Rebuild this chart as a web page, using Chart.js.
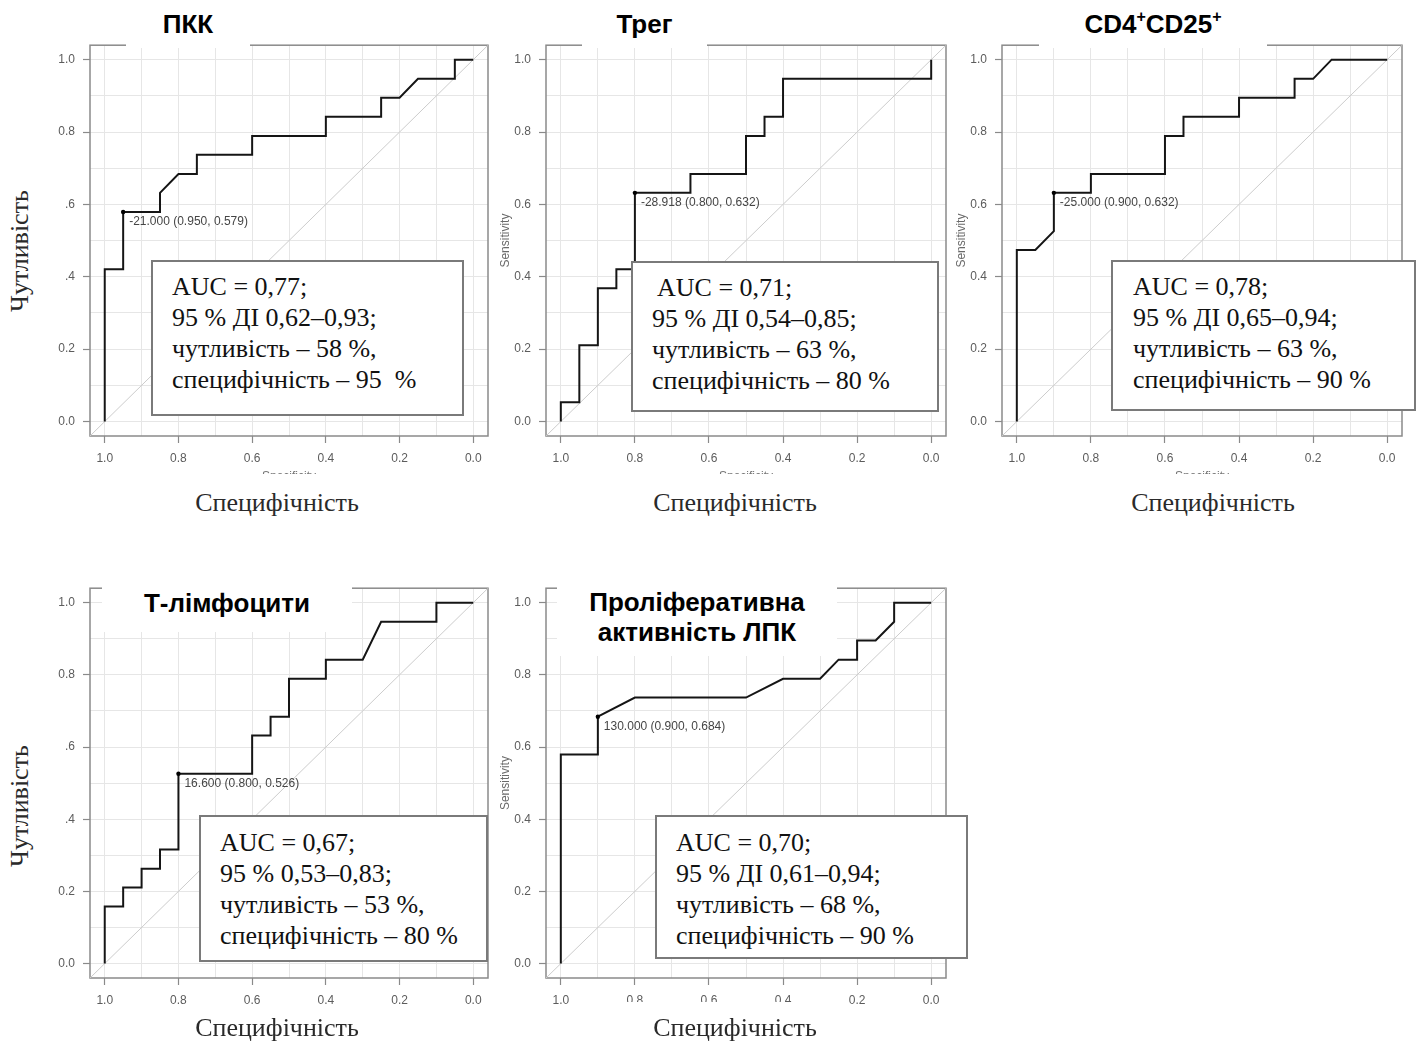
<!DOCTYPE html>
<html lang="uk">
<head>
<meta charset="utf-8">
<title>ROC-криві</title>
<script src="https://cdn.jsdelivr.net/npm/chart.js@4.4.1/dist/chart.umd.min.js"></script>
<style>
  html, body { margin: 0; padding: 0; background: #fff; }
  #wrap { position: relative; width: 1421px; height: 1044px; overflow: hidden; background: #fff; }
  #wrap canvas { position: absolute; z-index: 1; }
  .cover { position: absolute; background: #fff; z-index: 2; }
  .ttl { position: absolute; z-index: 3; background: #fff; text-align: center;
         font: bold 26px "Liberation Sans", Arial, sans-serif; color: #000; }
  .ttl sup { font-size: 16px; line-height: 0; vertical-align: 0; position: relative; top: -11px; }
  .box { position: absolute; z-index: 3; background: #fff; box-sizing: border-box;
         border: 2px solid #7a7a7a; white-space: pre; padding-left: 19px;
         font: 26px/31px "Liberation Serif", "Times New Roman", serif; color: #111; }
  .ax { position: absolute; z-index: 3; white-space: nowrap;
        font: 26px "Liberation Serif", "Times New Roman", serif; color: #2a2a2a;
        transform: translate(-50%, -50%); line-height: 30px; }
  .ax.rot { transform: translate(-50%, -50%) rotate(-90deg); }
</style>
</head>
<body>
<div id="wrap"></div>
<script>
// ---- axis ticks (specificity / sensitivity, 0..1) ----
const tickValues = [0, 0.1, 0.2, 0.3, 0.4, 0.5, 0.6, 0.7, 0.8, 0.9, 1.0];
const tickLabels = ['0.0', '', '0.2', '', '0.4', '', '0.6', '', '0.8', '', '1.0'];
const axisMin = -0.04;
const axisMax = 1.04;

// ---- ПКК ----
const pkkSpec = [1.00, 1.00, 0.95, 0.95, 0.85, 0.85, 0.80, 0.75, 0.75, 0.60, 0.60, 0.40, 0.40, 0.25, 0.25, 0.20, 0.15, 0.05, 0.05, 0.00];
const pkkSens = [0.000, 0.421, 0.421, 0.579, 0.579, 0.632, 0.684, 0.684, 0.737, 0.737, 0.789, 0.789, 0.842, 0.842, 0.895, 0.895, 0.947, 0.947, 1.000, 1.000];
const pkkBest = 3;

// ---- Трег ----
const tregSpec = [1.00, 1.00, 0.95, 0.95, 0.90, 0.90, 0.85, 0.85, 0.80, 0.80, 0.65, 0.65, 0.50, 0.50, 0.45, 0.45, 0.40, 0.40, 0.00, 0.00];
const tregSens = [0.000, 0.053, 0.053, 0.211, 0.211, 0.368, 0.368, 0.421, 0.421, 0.632, 0.632, 0.684, 0.684, 0.789, 0.789, 0.842, 0.842, 0.947, 0.947, 1.000];
const tregBest = 9;

// ---- CD4+CD25+ ----
const cdSpec = [1.00, 1.00, 0.95, 0.90, 0.90, 0.80, 0.80, 0.60, 0.60, 0.55, 0.55, 0.40, 0.40, 0.25, 0.25, 0.20, 0.15, 0.00];
const cdSens = [0.000, 0.474, 0.474, 0.526, 0.632, 0.632, 0.684, 0.684, 0.789, 0.789, 0.842, 0.842, 0.895, 0.895, 0.947, 0.947, 1.000, 1.000];
const cdBest = 4;

// ---- Т-лімфоцити ----
const tlSpec = [1.00, 1.00, 0.95, 0.95, 0.90, 0.90, 0.85, 0.85, 0.80, 0.80, 0.60, 0.60, 0.55, 0.55, 0.50, 0.50, 0.40, 0.40, 0.30, 0.25, 0.10, 0.10, 0.00];
const tlSens = [0.000, 0.158, 0.158, 0.211, 0.211, 0.263, 0.263, 0.316, 0.316, 0.526, 0.526, 0.632, 0.632, 0.684, 0.684, 0.789, 0.789, 0.842, 0.842, 0.947, 0.947, 1.000, 1.000];
const tlBest = 9;

// ---- Проліферативна активність ЛПК ----
const prolSpec = [1.00, 1.00, 0.90, 0.90, 0.80, 0.50, 0.40, 0.30, 0.25, 0.20, 0.20, 0.15, 0.10, 0.10, 0.00];
const prolSens = [0.000, 0.579, 0.579, 0.684, 0.737, 0.737, 0.789, 0.789, 0.842, 0.842, 0.895, 0.895, 0.947, 1.000, 1.000];
const prolBest = 3;

// optimal cut-off values
const cutoffs = ['-21.000', '-28.918', '-25.000', '16.600', '130.000'];

// ---- layout ----
const YW = 50, XB = 50, PT = 5, PR = 5;
const FRAME = '#8a8a8a', GRID = '#e6e6e6', TICK = '#5c5c5c';
const SANS = '"Liberation Sans", Arial, sans-serif';

const panels = [
  { frame: [90, 35, 398, 401],  spec: pkkSpec,  sens: pkkSens,  best: pkkBest,  cut: cutoffs[0], xTitle: true },
  { frame: [546, 35, 400, 401], spec: tregSpec, sens: tregSens, best: tregBest, cut: cutoffs[1], xTitle: true },
  { frame: [1002, 35, 400, 401], spec: cdSpec,  sens: cdSens,   best: cdBest,   cut: cutoffs[2], xTitle: true },
  { frame: [90, 578, 398, 400], spec: tlSpec,   sens: tlSens,   best: tlBest,   cut: cutoffs[3], xTitle: false },
  { frame: [546, 578, 400, 400], spec: prolSpec, sens: prolSens, best: prolBest, cut: cutoffs[4], xTitle: false }
];

const framePlugin = {
  id: 'frameBox',
  beforeDatasetsDraw(chart) {
    const a = chart.chartArea, ctx = chart.ctx;
    ctx.save();
    ctx.strokeStyle = FRAME;
    ctx.lineWidth = 1.5;
    ctx.strokeRect(a.left, a.top, a.right - a.left, a.bottom - a.top);
    ctx.restore();
  }
};

const cutLabelPlugin = {
  id: 'cutLabel',
  afterDatasetsDraw(chart, args, opts) {
    const meta = chart.getDatasetMeta(0);
    const el = meta.data[opts.index];
    const pt = chart.data.datasets[0].data[opts.index];
    const ctx = chart.ctx;
    ctx.save();
    ctx.font = '12px ' + SANS;
    ctx.fillStyle = '#454545';
    ctx.textAlign = 'left';
    ctx.textBaseline = 'middle';
    ctx.fillText(opts.cut + ' (' + pt.x.toFixed(3) + ', ' + pt.y.toFixed(3) + ')', el.x + 6, el.y + 9.5);
    ctx.restore();
  }
};

function axisOptions(isX, p) {
  const o = {
    type: 'linear',
    min: axisMin,
    max: axisMax,
    afterBuildTicks: s => { s.ticks = tickValues.map(v => ({ value: v })); },
    grid: {
      color: GRID,
      lineWidth: 1,
      tickLength: 7,
      tickWidth: 1.2,
      tickColor: c => (tickLabels[c.index] ? FRAME : 'rgba(0,0,0,0)')
    },
    border: { display: false },
    ticks: {
      autoSkip: false,
      maxRotation: 0,
      padding: 8,
      color: TICK,
      font: { family: SANS, size: 12 },
      callback: (v, i) => tickLabels[i]
    }
  };
  if (isX) {
    o.reverse = true;
    o.afterFit = s => { s.height = XB; };
    o.title = { display: p.xTitle, text: 'Specificity', color: '#777', font: { family: SANS, size: 12 }, padding: { top: 0, bottom: 2 } };
  } else {
    o.afterFit = s => { s.width = YW; };
    o.title = { display: true, text: 'Sensitivity', color: '#6a6a6a', font: { family: SANS, size: 12 }, padding: { top: 2, bottom: 0 } };
  }
  return o;
}

const wrap = document.getElementById('wrap');
panels.forEach(p => {
  const [l, t, w, h] = p.frame;
  const W = w + YW + PR, H = h + PT + XB;
  const cv = document.createElement('canvas');
  cv.width = W; cv.height = H;
  cv.style.left = (l - YW) + 'px';
  cv.style.top = (t - PT) + 'px';
  cv.style.width = W + 'px';
  cv.style.height = H + 'px';
  wrap.appendChild(cv);

  const roc = p.spec.map((s, i) => ({ x: s, y: p.sens[i] }));
  const chance = [{ x: axisMax, y: axisMin }, { x: axisMin, y: axisMax }];

  new Chart(cv, {
    type: 'line',
    data: {
      datasets: [
        {
          data: roc,
          borderColor: '#151515',
          borderWidth: 2,
          tension: 0,
          fill: false,
          pointRadius: roc.map((d, i) => (i === p.best ? 2.2 : 0)),
          pointBackgroundColor: '#000',
          pointBorderColor: '#000',
          pointBorderWidth: 0
        },
        {
          data: chance,
          borderColor: '#cccccc',
          borderWidth: 1,
          pointRadius: 0,
          fill: false
        }
      ]
    },
    options: {
      responsive: false,
      animation: false,
      devicePixelRatio: 1,
      layout: { padding: { top: PT, right: PR, left: 0, bottom: 0 } },
      plugins: {
        legend: { display: false },
        tooltip: { enabled: false },
        cutLabel: { index: p.best, cut: p.cut }
      },
      scales: { x: axisOptions(true, p), y: axisOptions(false, p) }
    },
    plugins: [framePlugin, cutLabelPlugin]
  });
});

// ---- annotations: titles, result boxes, axis captions ----
function add(cls, style, html) {
  const d = document.createElement('div');
  d.className = cls;
  Object.assign(d.style, style);
  d.innerHTML = html;
  wrap.appendChild(d);
  return d;
}

// panel titles
add('ttl', { left: '126px', top: '0px', width: '124px', height: '48px', lineHeight: '48px' }, 'ПКК');
add('ttl', { left: '582px', top: '0px', width: '125px', height: '48px', lineHeight: '48px' }, 'Трег');
add('ttl', { left: '1039px', top: '0px', width: '228px', height: '48px', lineHeight: '48px' }, 'CD4<sup>+</sup>CD25<sup>+</sup>');
add('ttl', { left: '102px', top: '572px', width: '250px', height: '60px', lineHeight: '30px', paddingTop: '16px', boxSizing: 'border-box' }, 'Т-лімфоцити');
add('ttl', { left: '557px', top: '572px', width: '280px', height: '84px', lineHeight: '30px', paddingTop: '15px', boxSizing: 'border-box' }, 'Проліферативна<br>активність ЛПК');

// result boxes
add('box', { left: '151px', top: '260px', width: '313px', height: '156px', paddingTop: '9px' },
  'AUC = 0,77;\n95 % ДІ 0,62–0,93;\nчутливість – 58 %,\nспецифічність – 95  %');
add('box', { left: '631px', top: '261px', width: '308px', height: '151px', paddingTop: '9px' },
  ' AUC = 0,71;\n95 % ДІ 0,54–0,85;\nчутливість – 63 %,\nспецифічність – 80 %');
add('box', { left: '1111px', top: '260px', width: '305px', height: '151px', paddingTop: '9px', paddingLeft: '20px' },
  'AUC = 0,78;\n95 % ДІ 0,65–0,94;\nчутливість – 63 %,\nспецифічність – 90 %');
add('box', { left: '199px', top: '815px', width: '289px', height: '147px', paddingTop: '10px' },
  'AUC = 0,67;\n95 % 0,53–0,83;\nчутливість – 53 %,\nспецифічність – 80 %');
add('box', { left: '655px', top: '815px', width: '313px', height: '144px', paddingTop: '10px' },
  'AUC = 0,70;\n95 % ДІ 0,61–0,94;\nчутливість – 68 %,\nспецифічність – 90 %');

// caption backgrounds
add('cover', { left: '0px', top: '165px', width: '65px', height: '155px' }, '');
add('cover', { left: '0px', top: '705px', width: '65px', height: '172px' }, '');
add('cover', { left: '195px', top: '474px', width: '170px', height: '56px' }, '');
add('cover', { left: '650px', top: '474px', width: '170px', height: '56px' }, '');
add('cover', { left: '1128px', top: '474px', width: '170px', height: '56px' }, '');
add('cover', { left: '598px', top: '1002px', width: '237px', height: '42px' }, '');

// axis captions
add('ax rot', { left: '20px', top: '251px' }, 'Чутливість');
add('ax rot', { left: '20px', top: '806px' }, 'Чутливість');
add('ax', { left: '277px', top: '503px' }, 'Специфічність');
add('ax', { left: '735px', top: '503px' }, 'Специфічність');
add('ax', { left: '1213px', top: '503px' }, 'Специфічність');
add('ax', { left: '277px', top: '1028px' }, 'Специфічність');
add('ax', { left: '735px', top: '1028px' }, 'Специфічність');
</script>
</body>
</html>
